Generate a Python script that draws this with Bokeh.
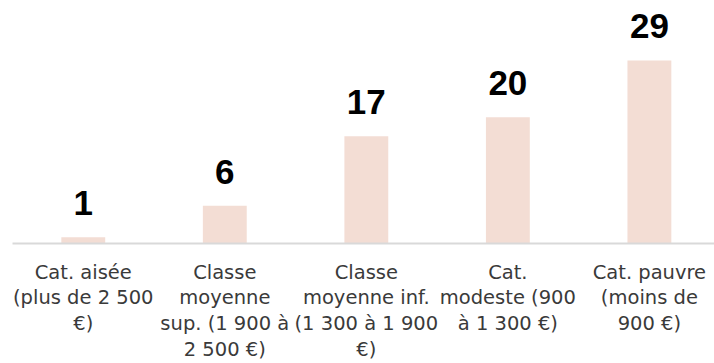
from bokeh.plotting import figure
from bokeh.models import Range1d, FixedTicker, ColumnDataSource
from bokeh.embed import file_html
from bokeh.resources import INLINE
from bokeh.core.properties import value

categories = [
    "Cat. aisée\n(plus de 2 500\n€)",
    "Classe\nmoyenne\nsup. (1 900 à\n2 500 €)",
    "Classe\nmoyenne inf.\n(1 300 à 1 900\n€)",
    "Cat.\nmodeste (900\nà 1 300 €)",
    "Cat. pauvre\n(moins de\n900 €)",
]
values = [1, 6, 17, 20, 29]

xs = list(range(len(categories)))
src = ColumnDataSource(dict(x=xs, top=values, label=[str(v) for v in values]))

p = figure(
    width=714, height=363,
    frame_width=702, frame_height=243,
    x_range=Range1d(-0.5, 4.46), y_range=Range1d(0, 38.5),
    output_backend="svg", toolbar_location=None,
    min_border_left=12, min_border_right=0, min_border_top=0, min_border_bottom=0,
)

p.vbar(x="x", top="top", width=0.31, source=src, color="#F3DDD4", line_color=None)

# value labels sit about 20 px above each bar
p.text(x="x", y="top", text="label", source=src,
       text_align="center", text_baseline="bottom", y_offset=-22,
       text_font=value("Liberation Sans"), text_font_style="bold",
       text_font_size="35px", text_color="#000000")

p.yaxis.visible = False
p.xgrid.visible = False
p.ygrid.visible = False
p.outline_line_color = None

ax = p.xaxis[0]
ax.ticker = FixedTicker(ticks=xs)
ax.major_label_overrides = {i: c for i, c in zip(xs, categories)}
ax.axis_line_color = "#D9D9D9"
ax.axis_line_width = 2
ax.major_tick_line_color = None
ax.minor_tick_line_color = None
ax.major_label_standoff = 11
ax.major_label_text_font = "DejaVu Sans"
ax.major_label_text_font_size = "19.5px"
ax.major_label_text_color = "#3A3A3A"
ax.major_label_text_line_height = 1.12

open("out.html", "w").write(file_html(p, INLINE))
